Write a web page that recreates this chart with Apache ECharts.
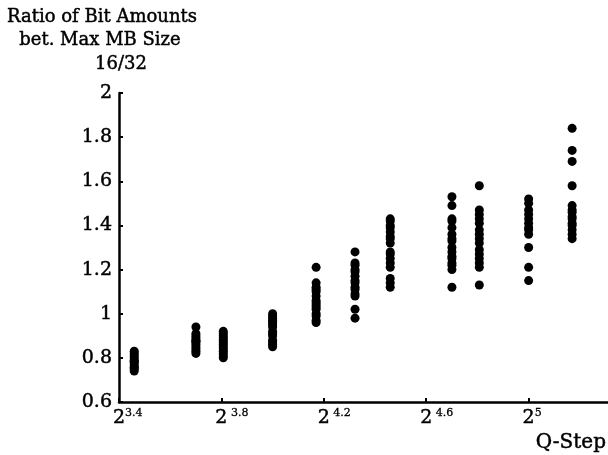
<!DOCTYPE html>
<html>
<head>
<meta charset="utf-8">
<script src="https://cdn.jsdelivr.net/npm/echarts@6/dist/echarts.min.js"></script>
<style>html,body{margin:0;padding:0;background:#fff}#c{width:608px;height:455px}</style>
</head>
<body>
<div id="c"></div>
<script>
// Q-step values (x positions, drawn on log2 scale)
const qSteps = [11, 13, 14, 16, 18, 20, 22, 26, 28, 32, 36];
// Ratio values for each Q-step column
const ratiosQ11 = [0.74, 0.75, 0.76, 0.77, 0.78, 0.79, 0.80, 0.81, 0.82, 0.83, 0.755, 0.785];
const ratiosQ13 = [0.94, 0.91, 0.90, 0.89, 0.88, 0.87, 0.86, 0.85, 0.84, 0.83, 0.82, 0.875];
const ratiosQ14 = [0.92, 0.91, 0.90, 0.89, 0.88, 0.87, 0.86, 0.85, 0.84, 0.83, 0.82, 0.81, 0.80];
const ratiosQ16 = [1.00, 0.99, 0.98, 0.97, 0.96, 0.95, 0.94, 0.92, 0.91, 0.90, 0.88, 0.87, 0.86, 0.85];
const ratiosQ18 = [1.21, 1.14, 1.12, 1.11, 1.10, 1.08, 1.06, 1.05, 1.04, 1.03, 1.02, 1.00, 0.99, 0.97, 0.96];
const ratiosQ20 = [1.28, 1.23, 1.22, 1.20, 1.19, 1.17, 1.15, 1.14, 1.12, 1.11, 1.09, 1.08, 1.02, 0.98];
const ratiosQ22 = [1.43, 1.42, 1.40, 1.39, 1.37, 1.35, 1.34, 1.32, 1.28, 1.27, 1.25, 1.23, 1.21, 1.16, 1.14, 1.12];
const ratiosQ26 = [1.53, 1.49, 1.43, 1.42, 1.39, 1.36, 1.34, 1.33, 1.30, 1.28, 1.26, 1.25, 1.23, 1.22, 1.20, 1.12];
const ratiosQ28 = [1.58, 1.47, 1.45, 1.43, 1.41, 1.38, 1.36, 1.34, 1.32, 1.29, 1.27, 1.25, 1.23, 1.21, 1.13];
const ratiosQ32 = [1.52, 1.50, 1.47, 1.45, 1.43, 1.41, 1.39, 1.38, 1.36, 1.30, 1.21, 1.15];
const ratiosQ36 = [1.84, 1.74, 1.69, 1.58, 1.49, 1.47, 1.46, 1.44, 1.43, 1.41, 1.40, 1.38, 1.36, 1.34];
const ratioColumns = [ratiosQ11, ratiosQ13, ratiosQ14, ratiosQ16, ratiosQ18, ratiosQ20, ratiosQ22, ratiosQ26, ratiosQ28, ratiosQ32, ratiosQ36];
// Axis tick labels (log2 exponents) and y ticks
const xTickExponents = [3.4, 3.8, 4.2, 4.6, 5.0];
const yTicks = [0.6, 0.8, 1, 1.2, 1.4, 1.6, 1.8, 2];
const titleLines = ['Ratio of Bit Amounts', 'bet. Max MB Size', '16/32'];
const xName = 'Q-Step';

const points = [];
qSteps.forEach((q, i) => {
  ratioColumns[i].forEach(v => points.push([Math.log2(q), v]));
});

const FONT = 'DejaVu Serif';
const STROKE = 0.45;
function txt(x, y, text, size, align) {
  return {type: 'text', style: {x: x, y: y, text: text, fontFamily: FONT, fontSize: size, fill: '#000',
    stroke: '#000', lineWidth: STROKE, textAlign: align, textVerticalAlign: 'middle'}};
}
const chart = echarts.init(document.getElementById('c'), null, {renderer: 'canvas'});
chart.setOption({
  animation: false,
  backgroundColor: '#fff',
  grid: {left: 119, right: 0, top: 93, bottom: 53, containLabel: false},
  xAxis: {
    type: 'value',
    min: 3.4,
    max: 5.31,
    splitLine: {show: false},
    axisLine: {show: true, onZero: false, lineStyle: {color: '#000', width: 2.5}},
    axisTick: {show: true, inside: true, length: 4, customValues: xTickExponents, lineStyle: {color: '#000', width: 2}},
    axisLabel: {
      customValues: xTickExponents,
      margin: 6,
      formatter: function (v) {
        const e = (Math.abs(v - 5) < 1e-9) ? '5' : v.toFixed(1);
        const s = (Math.abs(v - 3.4) < 1e-9 || e === '5') ? e : ' ' + e;
        return '{h|' + s + '}{b|2}{s|' + s + '}';
      },
      rich: {
        b: {fontFamily: FONT, fontSize: 19, color: '#000', textBorderColor: '#000', textBorderWidth: STROKE, lineHeight: 21},
        s: {fontFamily: FONT, fontSize: 11, color: '#000', textBorderColor: '#000', textBorderWidth: 0.3, verticalAlign: 'top', lineHeight: 21, padding: [0, 0, 6, 0]},
        h: {fontFamily: FONT, fontSize: 11, color: 'rgba(0,0,0,0)', lineHeight: 21}
      }
    }
  },
  yAxis: {
    type: 'value',
    min: yTicks[0],
    max: yTicks[yTicks.length - 1],
    interval: 0.2,
    splitLine: {show: false},
    axisLine: {show: true, onZero: false, lineStyle: {color: '#000', width: 2.5}},
    axisTick: {show: true, inside: true, length: 4, lineStyle: {color: '#000', width: 2}},
    axisLabel: {
      margin: 7,
      color: '#000',
      fontFamily: FONT,
      fontSize: 19,
      textBorderColor: '#000',
      textBorderWidth: STROKE,
      formatter: function (v) { return String(Math.round(v * 10) / 10); }
    }
  },
  graphic: [
    txt(102, 17, titleLines[0], 18, 'center'),
    txt(100, 40, titleLines[1], 18, 'center'),
    txt(121, 64, titleLines[2], 18, 'center'),
    txt(606, 443, xName, 20, 'right')
  ],
  series: [{
    type: 'scatter',
    data: points,
    symbol: 'circle',
    symbolSize: 9,
    itemStyle: {color: '#000', opacity: 1},
    clip: false
  }]
});
</script>
</body>
</html>
